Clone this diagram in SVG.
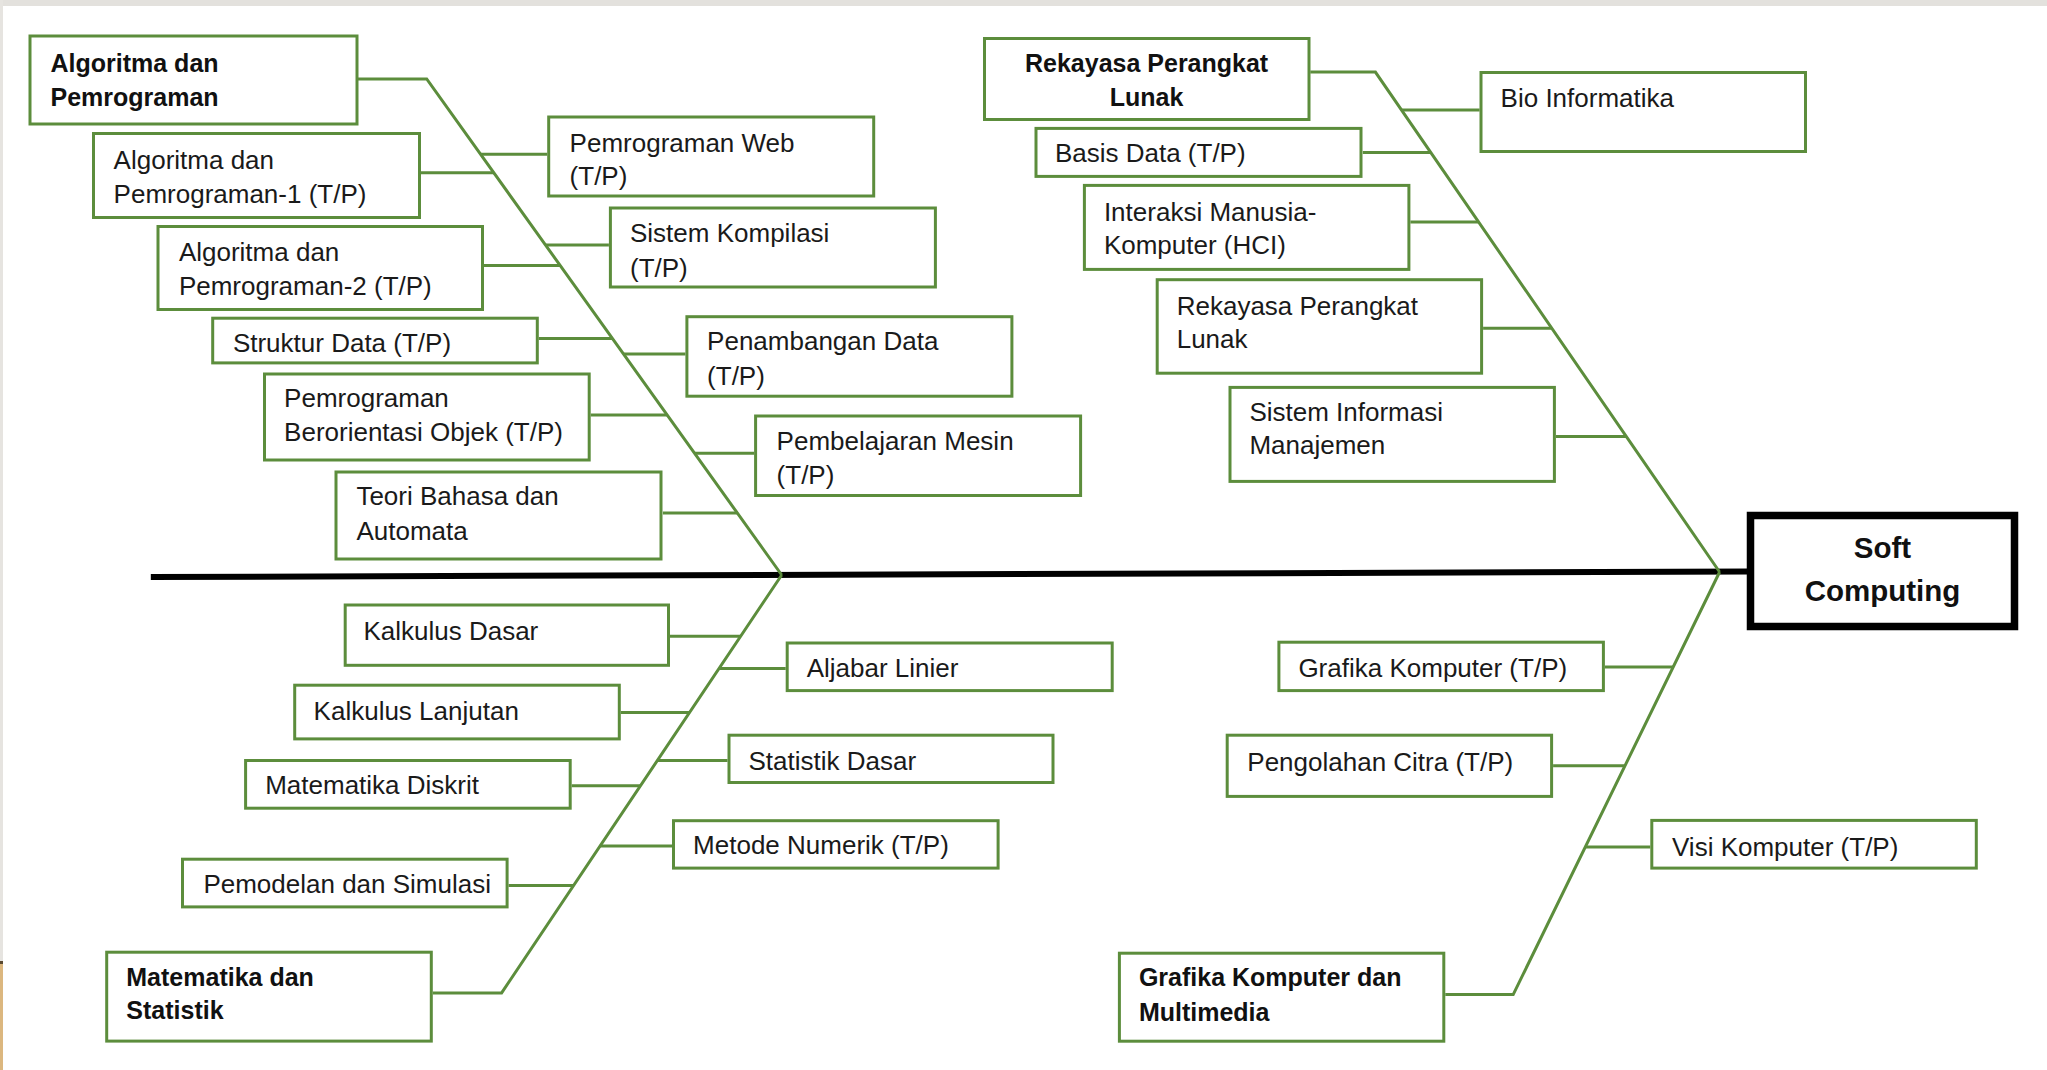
<svg xmlns="http://www.w3.org/2000/svg" width="2047" height="1070" viewBox="0 0 2047 1070">
<style>
.box{fill:#ffffff;stroke:#5c8d3c;stroke-width:3}
.t{font-family:"Liberation Sans",Arial,sans-serif;font-size:26px;fill:#1a1a1a}
.b{font-family:"Liberation Sans",Arial,sans-serif;font-size:25px;font-weight:bold;fill:#111111}
.c{stroke:#5c8d3c;stroke-width:3;fill:none}
</style>
<rect x="0" y="0" width="2047" height="1070" fill="#ffffff"/>
<rect x="0" y="0" width="2047" height="6" fill="#e3e1dd"/>
<rect x="0" y="0" width="3" height="961" fill="#e6e4e0"/>
<rect x="0" y="961" width="3" height="3" fill="#5a4a30"/>
<rect x="0" y="964" width="3" height="106" fill="#dcb77f"/>

<g id="connectors">
<line x1="150.8" y1="577" x2="1750" y2="571.5" stroke="#000000" stroke-width="6"/>
<polyline class="c" points="357.8,79 426.7,79 781.7,575"/>
<polyline class="c" points="1310.3,72.1 1375.4,72.1 1719.6,572"/>
<polyline class="c" points="781.7,575 501.6,992.9 432.8,992.9"/>
<polyline class="c" points="1719.6,572 1513.2,994.6 1445.3,994.6"/>
<line class="c" x1="480.6" y1="154.3" x2="547.2" y2="154.3"/>
<line class="c" x1="420.9" y1="172.8" x2="493.9" y2="172.8"/>
<line class="c" x1="545.5" y1="244.9" x2="608.9" y2="244.9"/>
<line class="c" x1="484" y1="265.6" x2="560.3" y2="265.6"/>
<line class="c" x1="538.8" y1="338.5" x2="612.5" y2="338.5"/>
<line class="c" x1="623.6" y1="354" x2="685.4" y2="354"/>
<line class="c" x1="590.7" y1="415.1" x2="667.4" y2="415.1"/>
<line class="c" x1="694.7" y1="453.2" x2="754.1" y2="453.2"/>
<line class="c" x1="662.9" y1="513.1" x2="737.6" y2="513.1"/>
<line class="c" x1="1401.4" y1="109.9" x2="1479.6" y2="109.9"/>
<line class="c" x1="1362.8" y1="152.4" x2="1430.7" y2="152.4"/>
<line class="c" x1="1410.4" y1="222" x2="1478.6" y2="222"/>
<line class="c" x1="1483.1" y1="328.2" x2="1551.7" y2="328.2"/>
<line class="c" x1="1555.9" y1="436.6" x2="1626.4" y2="436.6"/>
<line class="c" x1="670" y1="636.3" x2="740.6" y2="636.3"/>
<line class="c" x1="719.1" y1="668.4" x2="785.7" y2="668.4"/>
<line class="c" x1="620.8" y1="712.4" x2="689.6" y2="712.4"/>
<line class="c" x1="657.4" y1="760.4" x2="727.5" y2="760.4"/>
<line class="c" x1="571.7" y1="785.7" x2="640.5" y2="785.7"/>
<line class="c" x1="600.1" y1="845.9" x2="672" y2="845.9"/>
<line class="c" x1="508.6" y1="885.4" x2="573.6" y2="885.4"/>
<line class="c" x1="1604.9" y1="667.1" x2="1673" y2="667.1"/>
<line class="c" x1="1553.1" y1="765.8" x2="1624.8" y2="765.8"/>
<line class="c" x1="1585.3" y1="846.9" x2="1650.3" y2="846.9"/>
</g>

<g id="n-algoritma-pemrograman"><rect class="box" x="30" y="36" width="327" height="88"/><text class="b" x="50.5" y="72">Algoritma dan</text><text class="b" x="50.5" y="105.5">Pemrograman</text></g>
<g id="n-alg1"><rect class="box" x="93.5" y="133.5" width="326" height="84"/><text class="t" x="113.6" y="169.4">Algoritma dan</text><text class="t" x="113.6" y="202.7">Pemrograman-1 (T/P)</text></g>
<g id="n-web"><rect class="box" x="548.7" y="117" width="325" height="79"/><text class="t" x="569.6" y="151.7">Pemrograman Web</text><text class="t" x="569.6" y="185">(T/P)</text></g>
<g id="n-kompilasi"><rect class="box" x="610.4" y="208" width="325" height="79"/><text class="t" x="630" y="242.3">Sistem Kompilasi</text><text class="t" x="630" y="276.7">(T/P)</text></g>
<g id="n-alg2"><rect class="box" x="158" y="226.5" width="324.5" height="83"/><text class="t" x="178.9" y="260.8">Algoritma dan</text><text class="t" x="178.9" y="294.9">Pemrograman-2 (T/P)</text></g>
<g id="n-struktur"><rect class="box" x="212.7" y="318.2" width="324.6" height="44.7"/><text class="t" x="232.9" y="352.2">Struktur Data (T/P)</text></g>
<g id="n-penambangan"><rect class="box" x="686.9" y="316.7" width="325" height="79.5"/><text class="t" x="707.1" y="350.4">Penambangan Data</text><text class="t" x="707.1" y="384.8">(T/P)</text></g>
<g id="n-pbo"><rect class="box" x="264.5" y="374" width="324.7" height="86"/><text class="t" x="284.1" y="407">Pemrograman</text><text class="t" x="284.1" y="441">Berorientasi Objek (T/P)</text></g>
<g id="n-mesin"><rect class="box" x="755.6" y="416" width="325" height="79.5"/><text class="t" x="776.6" y="449.5">Pembelajaran Mesin</text><text class="t" x="776.6" y="483.9">(T/P)</text></g>
<g id="n-teori"><rect class="box" x="336" y="472" width="325" height="87"/><text class="t" x="356.4" y="505">Teori Bahasa dan</text><text class="t" x="356.4" y="540.1">Automata</text></g>

<g id="n-rpl-main"><rect class="box" x="984.5" y="38.5" width="324.5" height="81"/><text class="b" x="1146.6" y="72.1" text-anchor="middle">Rekayasa Perangkat</text><text class="b" x="1146.6" y="106.2" text-anchor="middle">Lunak</text></g>
<g id="n-bio"><rect class="box" x="1481" y="72.5" width="324.5" height="79"/><text class="t" x="1500.6" y="106.5">Bio Informatika</text></g>
<g id="n-basis"><rect class="box" x="1036" y="128.4" width="325" height="48"/><text class="t" x="1054.9" y="162">Basis Data (T/P)</text></g>
<g id="n-hci"><rect class="box" x="1084.4" y="185.4" width="324.5" height="84"/><text class="t" x="1103.9" y="220.9">Interaksi Manusia-</text><text class="t" x="1103.9" y="254.2">Komputer (HCI)</text></g>
<g id="n-rpl"><rect class="box" x="1157.2" y="279.7" width="324.4" height="93.5"/><text class="t" x="1176.7" y="314.5">Rekayasa Perangkat</text><text class="t" x="1176.7" y="347.8">Lunak</text></g>
<g id="n-sim"><rect class="box" x="1230" y="387.4" width="324.4" height="94"/><text class="t" x="1249.4" y="421">Sistem Informasi</text><text class="t" x="1249.4" y="454.3">Manajemen</text></g>

<g id="n-soft"><rect x="1750.5" y="515.5" width="264" height="111" fill="#ffffff" stroke="#000000" stroke-width="7.5"/><text class="b" x="1882.5" y="557.5" text-anchor="middle" style="font-size:29.5px">Soft</text><text class="b" x="1882.5" y="601" text-anchor="middle" style="font-size:29.5px">Computing</text></g>

<g id="n-kalkulus-dasar"><rect class="box" x="345.2" y="605" width="323.3" height="60.3"/><text class="t" x="363.4" y="640.4">Kalkulus Dasar</text></g>
<g id="n-aljabar"><rect class="box" x="787.2" y="643" width="325" height="47.6"/><text class="t" x="806.7" y="676.9">Aljabar Linier</text></g>
<g id="n-kalkulus-lanjutan"><rect class="box" x="294.7" y="685.2" width="324.6" height="53.7"/><text class="t" x="313.6" y="720.2">Kalkulus Lanjutan</text></g>
<g id="n-statistik"><rect class="box" x="729" y="735.2" width="324" height="47.3"/><text class="t" x="748.5" y="769.8">Statistik Dasar</text></g>
<g id="n-diskrit"><rect class="box" x="245.6" y="760.5" width="324.6" height="47.7"/><text class="t" x="265.2" y="794.2">Matematika Diskrit</text></g>
<g id="n-numerik"><rect class="box" x="673.5" y="820.7" width="324.6" height="47.4"/><text class="t" x="693.1" y="854.3">Metode Numerik (T/P)</text></g>
<g id="n-pemodelan"><rect class="box" x="182.5" y="859.2" width="324.6" height="47.7"/><text class="t" x="203.4" y="893.2">Pemodelan dan Simulasi</text></g>
<g id="n-matstat"><rect class="box" x="106.7" y="952.2" width="324.6" height="88.9"/><text class="b" x="126.3" y="985.5">Matematika dan</text><text class="b" x="126.3" y="1019.3">Statistik</text></g>

<g id="n-grafika"><rect class="box" x="1278.9" y="642.2" width="324.5" height="48.4"/><text class="t" x="1298.4" y="676.9">Grafika Komputer (T/P)</text></g>
<g id="n-citra"><rect class="box" x="1227.2" y="735.2" width="324.4" height="61.2"/><text class="t" x="1247.3" y="770.5">Pengolahan Citra (T/P)</text></g>
<g id="n-visi"><rect class="box" x="1651.8" y="820.4" width="324.5" height="47.7"/><text class="t" x="1672" y="856">Visi Komputer (T/P)</text></g>
<g id="n-gkm"><rect class="box" x="1119.4" y="953.2" width="324.4" height="88"/><text class="b" x="1138.9" y="986.2">Grafika Komputer dan</text><text class="b" x="1138.9" y="1021">Multimedia</text></g>
</svg>
